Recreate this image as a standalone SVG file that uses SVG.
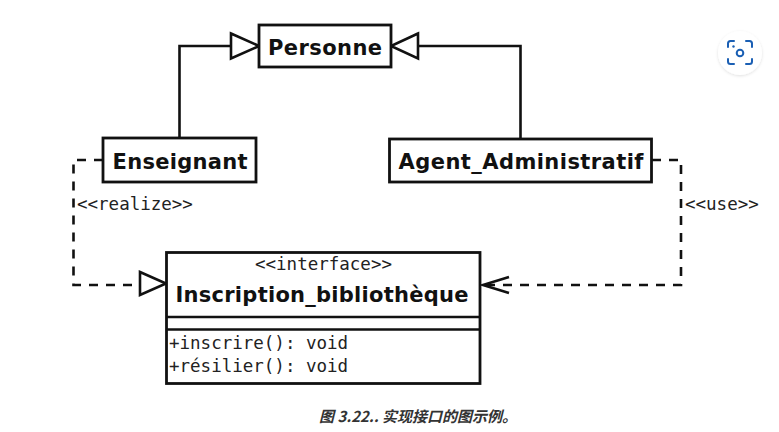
<svg xmlns="http://www.w3.org/2000/svg" width="779" height="432" viewBox="0 0 779 432">
<defs>
<style>
.box{fill:#fff;stroke:#111;stroke-width:2.8}
.ln{fill:none;stroke:#111;stroke-width:2.6}
.dash{fill:none;stroke:#111;stroke-width:2.6;stroke-dasharray:9 8}
.tri{fill:#fff;stroke:#111;stroke-width:2.6;stroke-linejoin:miter}
.name{font-family:"DejaVu Sans",sans-serif;font-weight:bold;font-size:21px;fill:#111;text-anchor:middle}
.mono{font-family:"DejaVu Sans Mono",monospace;font-size:17.5px;fill:#222}
.cap{font-family:"Noto Sans CJK SC",sans-serif;font-weight:bold;font-style:italic;font-size:15px;fill:#333;text-anchor:middle}
</style>
<filter id="sh" x="-30%" y="-30%" width="160%" height="160%"><feDropShadow dx="0" dy="1" stdDeviation="1.5" flood-color="#000" flood-opacity="0.12"/></filter>
</defs>
<rect width="779" height="432" fill="#fff"/>
<g id="connectors">
<path class="ln" d="M179.5,138 V46 H231"/>
<path class="tri" d="M231,33.5 L259,46 L231,58.5 Z"/>
<path class="ln" d="M520.5,139 V46 H418"/>
<path class="tri" d="M418,33.5 L391,46 L418,58.5 Z"/>
<path class="dash" d="M103,160 H73.5 V285 H140"/>
<path class="tri" d="M140,272 L166,283.5 L140,295 Z"/>
<text class="mono" x="77" y="210">&lt;&lt;realize&gt;&gt;</text>
<path class="dash" d="M652,160 H681 V285 H484"/>
<path class="ln" d="M509,277 L483,285 L509,293"/>
<text class="mono" x="685" y="210">&lt;&lt;use&gt;&gt;</text>
</g>
<g id="personne">
<rect class="box" x="259" y="25" width="132" height="42"/>
<text class="name" x="325" y="55" textLength="114" lengthAdjust="spacing">Personne</text>
</g>
<g id="enseignant">
<rect class="box" x="103" y="138" width="153" height="44"/>
<text class="name" x="180" y="168.5" textLength="135" lengthAdjust="spacing">Enseignant</text>
</g>
<g id="agent">
<rect class="box" x="389.5" y="139" width="262" height="43"/>
<text class="name" x="521" y="169" textLength="245" lengthAdjust="spacing">Agent_Administratif</text>
</g>
<g id="inscription">
<rect class="box" x="166.5" y="252.5" width="313.5" height="131"/>
<line class="ln" x1="166.5" y1="317" x2="480" y2="317"/>
<line class="ln" x1="166.5" y1="329.5" x2="480" y2="329.5"/>
<text class="mono" x="323.5" y="270" text-anchor="middle">&lt;&lt;interface&gt;&gt;</text>
<text class="name" x="322" y="302" textLength="293" lengthAdjust="spacing">Inscription_bibliothèque</text>
<text class="mono" x="169" y="348.5">+inscrire(): void</text>
<text class="mono" x="169" y="372">+résilier(): void</text>
</g>
<text class="cap" x="418" y="422">图 3.22.. 实现接口的图示例。</text>
<g id="lens">
<circle cx="740" cy="53" r="22" fill="#fff" filter="url(#sh)"/>
<path d="M728,47 V43.5 Q728,41 730.5,41 H734 M746,41 H749.5 Q752,41 752,43.5 V47 M752,59 V61.5 Q752,64 749.5,64 H746 M734,64 H730.5 Q728,64 728,61.5 V59" fill="none" stroke="#1a5fb4" stroke-width="2" stroke-linecap="round"/>
<circle cx="740" cy="53" r="3.3" fill="none" stroke="#1a5fb4" stroke-width="2"/>
<circle cx="733.5" cy="46.5" r="1.2" fill="#1a5fb4"/>
</g>
</svg>
